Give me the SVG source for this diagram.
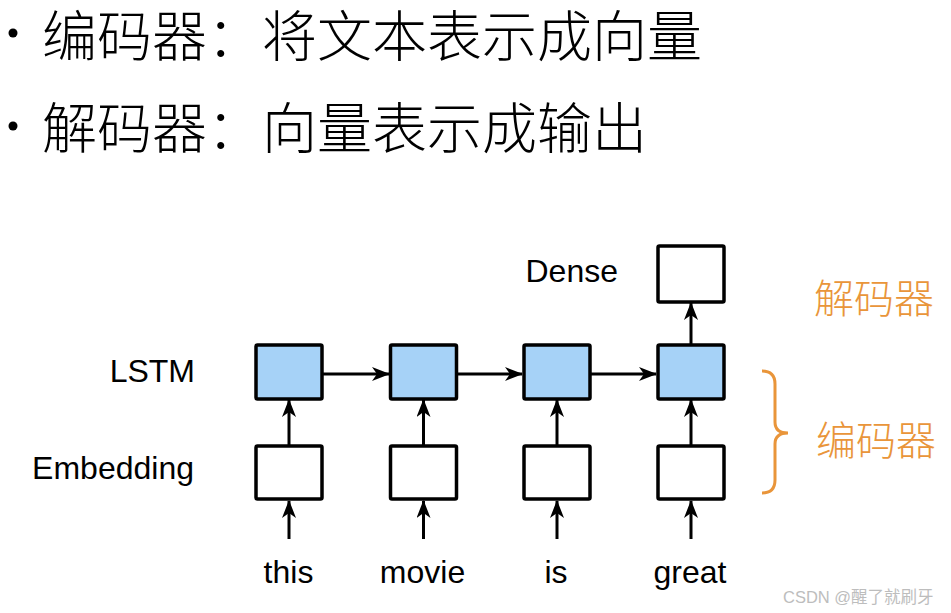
<svg xmlns="http://www.w3.org/2000/svg" width="951" height="613" viewBox="0 0 951 613">
  <style>
    .cjk { font-family: "Noto Sans CJK SC", "Noto Sans", sans-serif; font-weight: 300; }
    .lat { font-family: "Liberation Sans", Arial, sans-serif; font-size: 32px; fill: #000; }
    .box { stroke: #000; stroke-width: 3.5; }
    .plain { fill: #fff; }
    .lstm { fill: #A6D2F7; }
    .conn { stroke: #000; stroke-width: 3; fill: none; marker-end: url(#head); }
    .orange { fill: #E9953A; }
  </style>
  <defs>
    <marker id="head" viewBox="0 0 18 14" refX="17" refY="7" markerWidth="18" markerHeight="14" markerUnits="userSpaceOnUse" orient="auto">
      <path d="M0,0 L18,7 L0,14 L5,7 z" fill="#000"/>
    </marker>
  </defs>
  <rect width="951" height="613" fill="#fff"/>

  <!-- bullet lines -->
  <g id="bullets">
    <circle cx="13" cy="33" r="4.5" fill="#000"/>
    <circle cx="13" cy="126" r="4.5" fill="#000"/>
    <text class="cjk" x="42" y="56" font-size="55" fill="#000">编码器：将文本表示成向量</text>
    <text class="cjk" x="42" y="148" font-size="55" fill="#000">解码器：向量表示成输出</text>
  </g>

  <!-- row labels -->
  <g id="labels">
    <text class="lat" x="618" y="282" text-anchor="end">Dense</text>
    <text class="lat" x="195" y="382" text-anchor="end">LSTM</text>
    <text class="lat" x="194" y="479" text-anchor="end">Embedding</text>
  </g>

  <!-- connectors -->
  <g id="connectors">
    <line class="conn" x1="323" y1="374" x2="389" y2="374"/>
    <line class="conn" x1="457" y1="374" x2="522" y2="374"/>
    <line class="conn" x1="591" y1="374" x2="656" y2="374"/>
    <line class="conn" x1="289" y1="446" x2="289" y2="400"/>
    <line class="conn" x1="423.5" y1="446" x2="423.5" y2="400"/>
    <line class="conn" x1="557" y1="446" x2="557" y2="400"/>
    <line class="conn" x1="691" y1="446" x2="691" y2="400"/>
    <line class="conn" x1="289" y1="539" x2="289" y2="501"/>
    <line class="conn" x1="423.5" y1="539" x2="423.5" y2="501"/>
    <line class="conn" x1="557" y1="539" x2="557" y2="501"/>
    <line class="conn" x1="691" y1="539" x2="691" y2="501"/>
    <line class="conn" x1="691" y1="345" x2="691" y2="303"/>
  </g>

  <!-- dense output -->
  <g id="dense"><rect class="box plain" x="658" y="246" width="66" height="56" rx="1.5"/></g>

  <!-- LSTM cells -->
  <g id="lstm1"><rect class="box lstm" x="256" y="345" width="66" height="54" rx="1.5"/></g>
  <g id="lstm2"><rect class="box lstm" x="390.5" y="345" width="66" height="54" rx="1.5"/></g>
  <g id="lstm3"><rect class="box lstm" x="524" y="345" width="66" height="54" rx="1.5"/></g>
  <g id="lstm4"><rect class="box lstm" x="658" y="345" width="66" height="54" rx="1.5"/></g>

  <!-- embedding cells -->
  <g id="emb1"><rect class="box plain" x="256" y="446" width="66" height="53" rx="1.5"/></g>
  <g id="emb2"><rect class="box plain" x="390.5" y="446" width="66" height="53" rx="1.5"/></g>
  <g id="emb3"><rect class="box plain" x="524" y="446" width="66" height="53" rx="1.5"/></g>
  <g id="emb4"><rect class="box plain" x="658" y="446" width="66" height="53" rx="1.5"/></g>

  <!-- input tokens -->
  <g id="tokens">
    <text class="lat" x="288.5" y="583" text-anchor="middle">this</text>
    <text class="lat" x="422.5" y="583" text-anchor="middle">movie</text>
    <text class="lat" x="556" y="583" text-anchor="middle">is</text>
    <text class="lat" x="690" y="583" text-anchor="middle">great</text>
  </g>

  <!-- stage annotations -->
  <g id="decoder-label">
    <text class="cjk orange" x="814" y="313" font-size="40">解码器</text>
  </g>
  <g id="encoder-label">
    <path d="M762,371 Q775,371 775,384 L775,422 Q775,433 788,433 Q775,433 775,444 L775,480 Q775,493 762,493" fill="none" stroke="#E9953A" stroke-width="3"/>
    <text class="cjk orange" x="816" y="455" font-size="40">编码器</text>
  </g>

  <text x="783" y="603" font-family="'Liberation Sans', 'Noto Sans CJK SC', sans-serif" font-size="16.5" fill="#bdbdbd">CSDN @醒了就刷牙</text>
</svg>
